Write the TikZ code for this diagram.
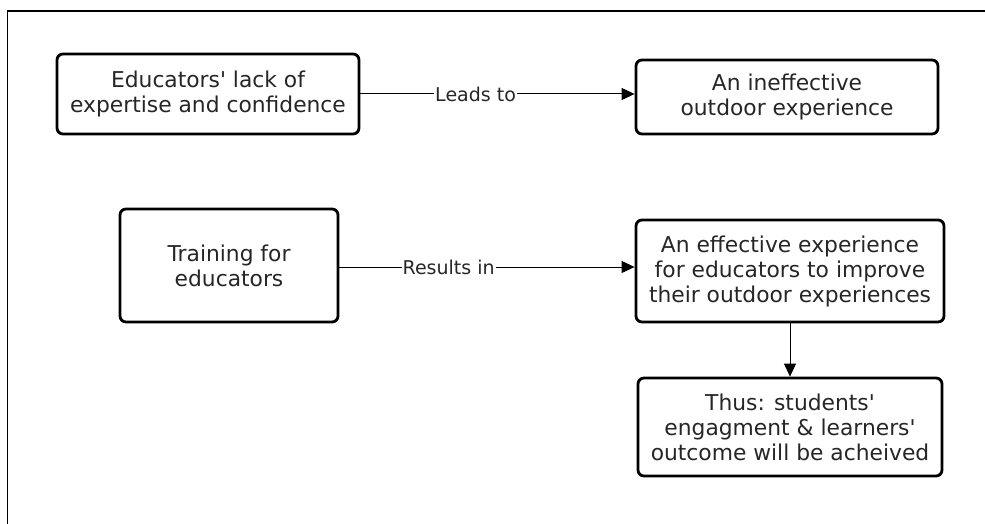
\documentclass[tikz,border=0pt]{standalone}
\usepackage{fontspec}
\setmainfont{DejaVu Sans}
\usetikzlibrary{arrows.meta}

\tikzset{
	box/.style={draw=black, text=black!85, shape=rectangle, rounded corners=6pt, line width=2.8pt, align=center, font=\fontsize{21.8}{25}\selectfont, inner sep=0pt},
	link/.style={-{Triangle[length=13pt, width=12pt]}, line width=1pt},
	linklabel/.style={fill=white, text=black!85, inner sep=1pt, font=\fontsize{19}{21}\selectfont}
}

\begin{document}
\begin{tikzpicture}[x=1pt, y=-1pt]
	\useasboundingbox (0,0) rectangle (985,524);
	\draw[line width=1.3pt] (7.5,524) -- (7.5,11) -- (985,11);

	\node[box, minimum width=302pt, minimum height=80pt] (lack) at (208,94) {Educators\textquotesingle{} lack of\\ expertise and confidence};
	\node[box, minimum width=302pt, minimum height=74pt] (ineffective) at (787,97) {An ineffective\\ outdoor experience};
	\node[box, minimum width=218pt, minimum height=113pt] (training) at (229,265.5) {Training for\\ educators};
	\node[box, minimum width=308pt, minimum height=102pt] (effective) at (790,271) {An effective experience\\ for educators to improve\\ their outdoor experiences};
	\node[box, minimum width=304pt, minimum height=98pt] (outcome) at (790,427) {Thus: students\textquotesingle\\ engagment \& learners\textquotesingle\\ outcome will be acheived};

	\draw[link] (lack.east) -- node[linklabel, pos=0.42] {Leads to} (lack.east -| ineffective.west);
	\draw[link] ([yshift=-1.5pt]training.east) -- node[linklabel, pos=0.37] {Results in} ([yshift=-1.5pt]training.east -| effective.west);
	\draw[link] (effective.south) -- (outcome.north);
\end{tikzpicture}
\end{document}
